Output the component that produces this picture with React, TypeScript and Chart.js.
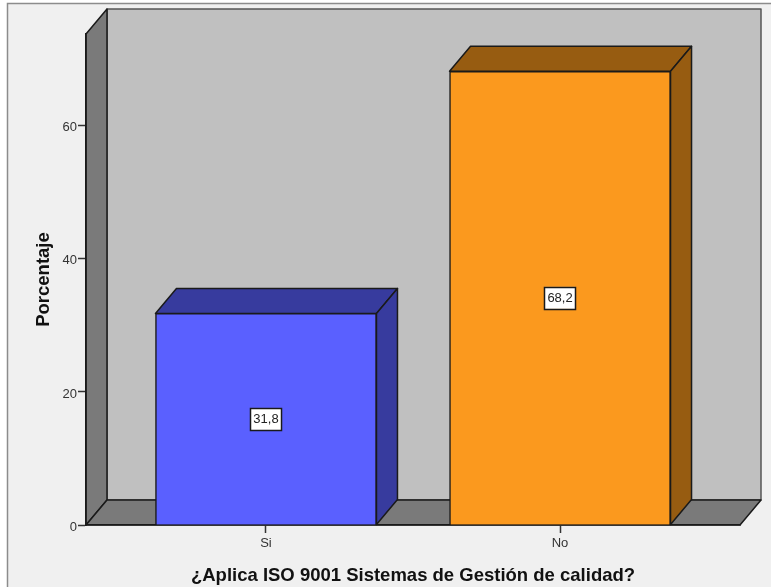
import React, { useEffect, useRef } from "react";
import { Chart, registerables } from "chart.js";

Chart.register(...registerables);

const categories = ["Si", "No"];
const percentages = [31.8, 68.2];
const valueLabels = ["31,8", "68,2"];
const frontColors = ["#5a60ff", "#fb991e"];
const sideColors = ["#373b9e", "#975c11"];
const yTicks = [0, 20, 40, 60];

const DX = 21;
const DY = -25;
const INK = "#1a1a1a";

function poly(ctx: CanvasRenderingContext2D, pts: number[][], fill: string, stroke = INK, lw = 1.5) {
  ctx.beginPath();
  pts.forEach(([x, y], i) => (i ? ctx.lineTo(x, y) : ctx.moveTo(x, y)));
  ctx.closePath();
  ctx.fillStyle = fill;
  ctx.fill();
  ctx.lineWidth = lw;
  ctx.strokeStyle = stroke;
  ctx.lineJoin = "round";
  ctx.stroke();
}

const scene = {
  id: "scene",
  beforeDraw(chart: any) {
    const { ctx, chartArea: a, width, height } = chart;
    ctx.save();
    ctx.fillStyle = "#ffffff";
    ctx.fillRect(0, 0, width, height);
    ctx.fillStyle = "#f0f0f0";
    ctx.fillRect(7, 4, width - 7, height - 4);
    ctx.strokeStyle = "#8c8c8c";
    ctx.lineWidth = 1.5;
    ctx.beginPath();
    ctx.moveTo(7.5, height);
    ctx.lineTo(7.5, 3.5);
    ctx.lineTo(width, 3.5);
    ctx.stroke();
    // back wall
    poly(ctx, [[a.left + DX, a.top + DY], [a.right + DX, a.top + DY], [a.right + DX, a.bottom + DY], [a.left + DX, a.bottom + DY]], "#c0c0c0", "#555555");
    // left wall
    poly(ctx, [[a.left, a.top], [a.left + DX, a.top + DY], [a.left + DX, a.bottom + DY], [a.left, a.bottom]], "#7a7a7a");
    // floor
    poly(ctx, [[a.left, a.bottom], [a.left + DX, a.bottom + DY], [a.right + DX, a.bottom + DY], [a.right, a.bottom]], "#7a7a7a");
    ctx.restore();
  },
  beforeDatasetsDraw(chart: any) {
    const { ctx } = chart;
    ctx.save();
    chart.getDatasetMeta(0).data.forEach((bar: any, i: number) => {
      const half = bar.width / 2;
      const l = bar.x - half;
      const r = bar.x + half;
      const t = bar.y;
      const b = bar.base;
      poly(ctx, [[l, t], [l + DX, t + DY], [r + DX, t + DY], [r, t]], sideColors[i]);
      poly(ctx, [[r, t], [r + DX, t + DY], [r + DX, b + DY], [r, b]], sideColors[i]);
    });
    ctx.restore();
  },
  afterDatasetsDraw(chart: any) {
    const { ctx } = chart;
    ctx.save();
    ctx.font = "13px 'Liberation Sans'";
    ctx.textAlign = "center";
    ctx.textBaseline = "middle";
    chart.getDatasetMeta(0).data.forEach((bar: any, i: number) => {
      const y = (bar.y + bar.base) / 2;
      const w = ctx.measureText(valueLabels[i]).width + 6;
      ctx.fillStyle = "#ffffff";
      ctx.strokeStyle = INK;
      ctx.lineWidth = 1.5;
      ctx.fillRect(bar.x - w / 2, y - 11, w, 22);
      ctx.strokeRect(Math.round(bar.x - w / 2) + 0.5, Math.round(y - 11) + 0.5, Math.round(w), 22);
      ctx.fillStyle = "#222222";
      ctx.fillText(valueLabels[i], bar.x, y + 0.5);
    });
    ctx.restore();
  },
};

export default function App() {
  const ref = useRef<HTMLCanvasElement>(null);
  useEffect(() => {
    document.body.style.margin = "0";
    const chart = new Chart(ref.current as HTMLCanvasElement, {
      type: "bar",
      data: {
        datasets: [
          {
            data: categories.map((_, i) => ({ x: i + 1, y: percentages[i] })),
            backgroundColor: frontColors,
            borderColor: INK,
            borderWidth: 1.5,
            barThickness: 221,
          },
        ],
      },
      plugins: [scene],
      options: {
        animation: false,
        responsive: false,
        maintainAspectRatio: false,
        layout: { padding: { top: 34, right: 31, left: 0, bottom: 0 } },
        plugins: { legend: { display: false }, tooltip: { enabled: false } },
        scales: {
          x: {
            type: "linear",
            offset: false,
            min: 0.388,
            max: 2.612,
            afterFit: (s: any) => { s.height = 62; },
            afterBuildTicks: (s: any) => { s.ticks = categories.map((_, i) => ({ value: i + 1 })); },
            grid: { offset: false, drawOnChartArea: false, tickLength: 8, color: "#333333", tickWidth: 1.5 },
            border: { color: INK, width: 1.5 },
            ticks: {
              padding: 3,
              maxRotation: 0,
              color: "#333333",
              font: { family: "'Liberation Sans'", size: 13 },
              callback: (v: any) => categories[Number(v) - 1],
            },
            title: {
              display: true,
              text: "¿Aplica ISO 9001 Sistemas de Gestión de calidad?",
              color: "#111111",
              padding: { top: 6, bottom: 0 },
              font: { family: "'Liberation Sans'", size: 18.5, weight: "bold" },
            },
          },
          y: {
            min: 0,
            max: 73.8,
            afterFit: (s: any) => { s.width = 86; },
            afterBuildTicks: (s: any) => { s.ticks = yTicks.map((value) => ({ value })); },
            grid: { drawOnChartArea: false, tickLength: 8, color: "#333333", tickWidth: 1.5 },
            border: { color: INK, width: 1.5 },
            ticks: {
              padding: 1,
              labelOffset: 2,
              color: "#333333",
              font: { family: "'Liberation Sans'", size: 13 },
            },
            title: {
              display: true,
              text: "Porcentaje",
              color: "#111111",
              padding: { top: 33, bottom: 0 },
              font: { family: "'Liberation Sans'", size: 18.5, weight: "bold" },
            },
          },
        },
      } as any,
    });
    return () => chart.destroy();
  }, []);
  return <canvas ref={ref} width={771} height={587} style={{ display: "block" }} />;
}
